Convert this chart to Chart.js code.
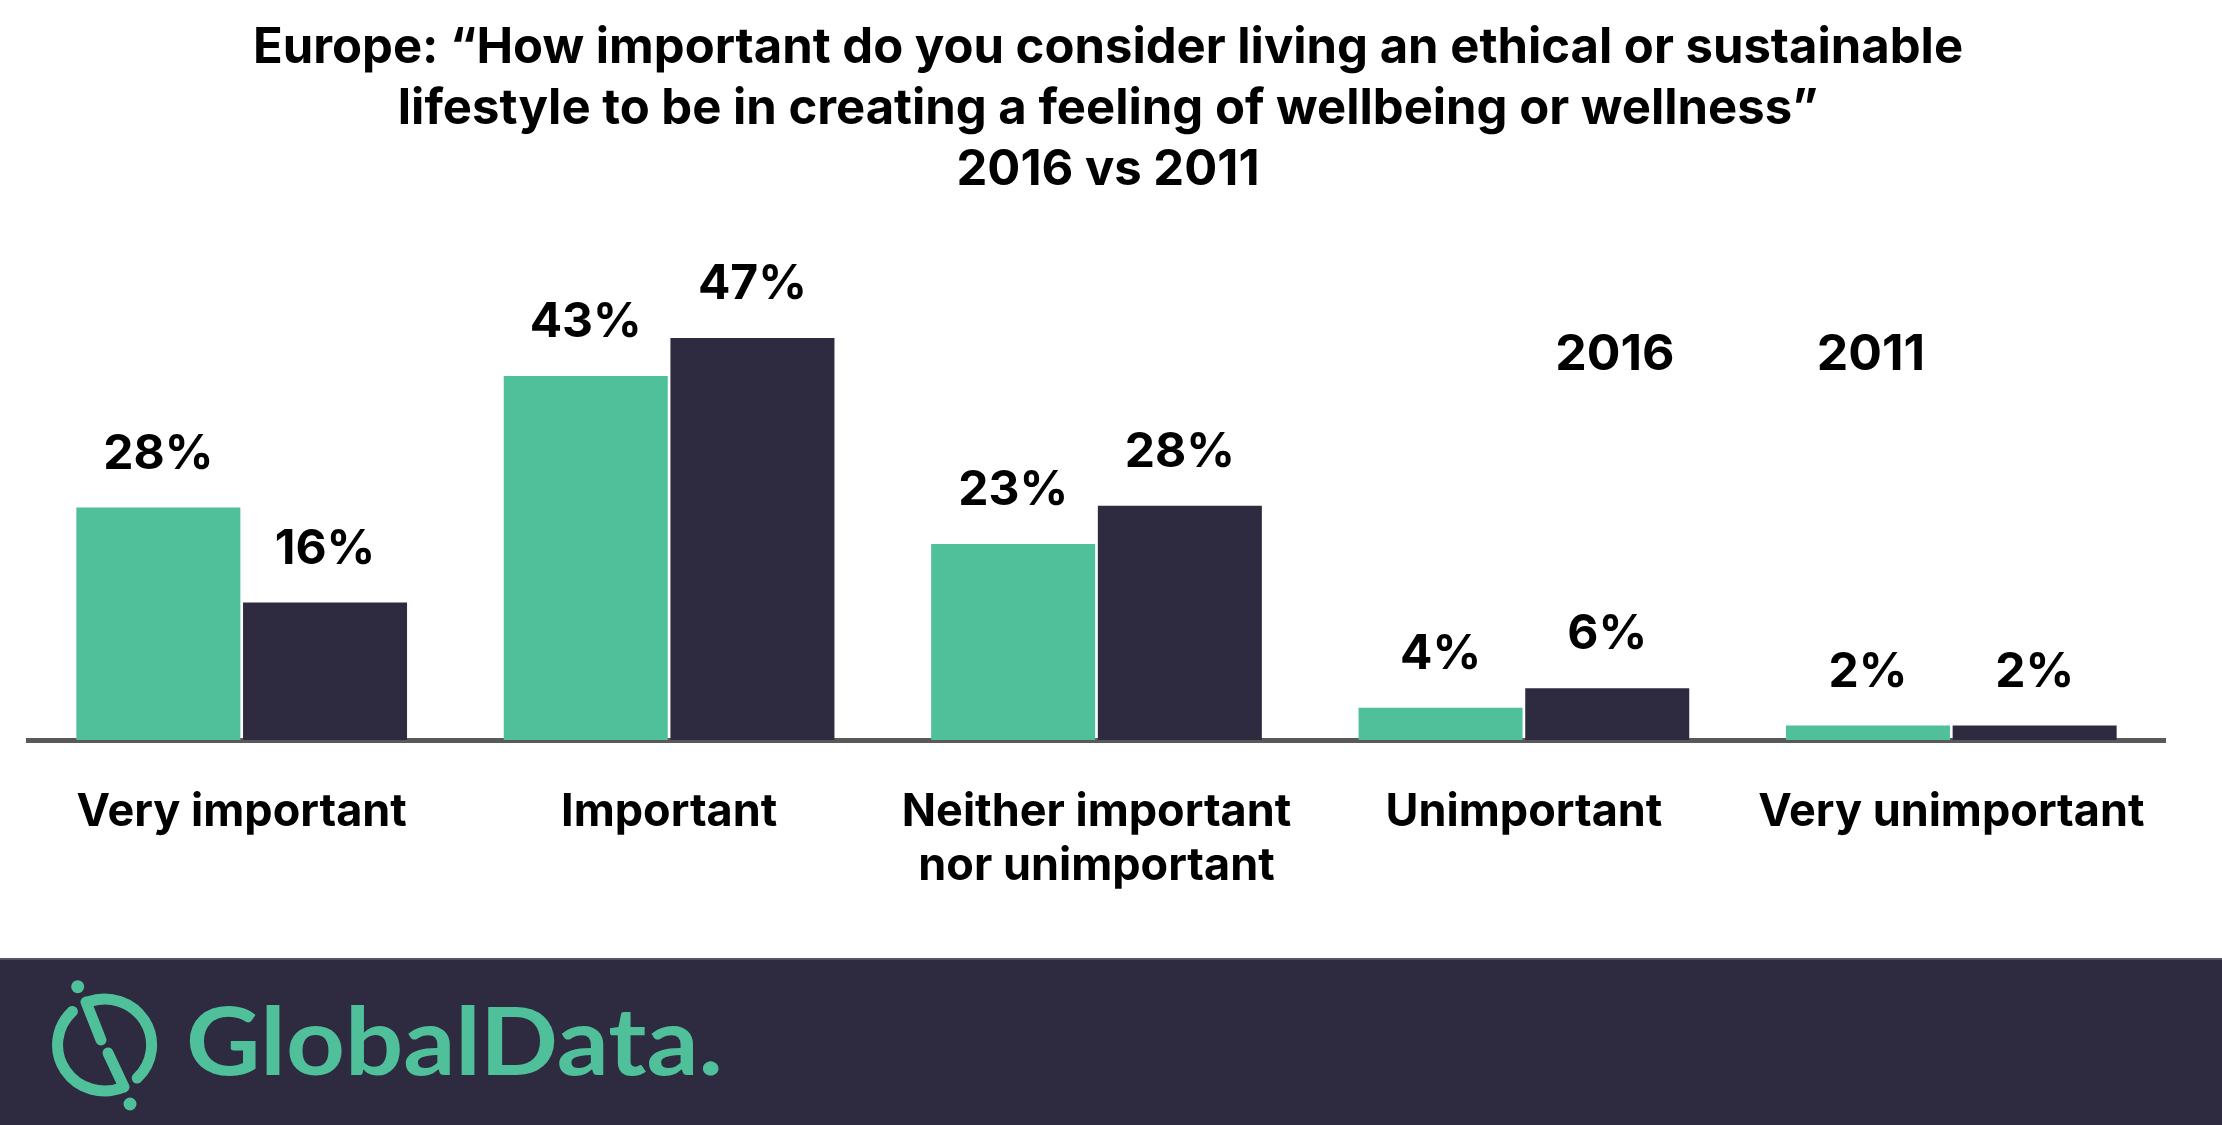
<!DOCTYPE html>
<html lang="en">
<head>
<meta charset="UTF-8">
<title>Europe: ethical or sustainable lifestyle and wellbeing, 2016 vs 2011</title>
<script src="https://cdn.jsdelivr.net/npm/chart.js@4.4.0/dist/chart.umd.min.js"></script>
<style>
  html, body { margin: 0; padding: 0; background: #ffffff; }
  body { width: 2222px; height: 1125px; overflow: hidden; position: relative; font-family: Inter, sans-serif; }
  #wrap { position: absolute; left: 0; top: 0; width: 2222px; height: 958px; }
  #footer { position: absolute; left: 0; top: 958px; width: 2222px; height: 167px; background: #2e2a3f; border-top: 2px solid #57535f; box-sizing: border-box; }
  #logo { position: absolute; left: 0; top: 958px; }
</style>
</head>
<body>
<div id="wrap"><canvas id="chart"></canvas></div>
<div id="footer"></div>
<svg id="logo" width="800" height="167" viewBox="0 0 800 167">
  <g fill="none" stroke="#50c09b" stroke-width="11" stroke-linecap="round">
    <path d="M88.4 43.8 A47 46 0 0 1 137.2 120.1"/>
    <path d="M123.6 129 A47 46 0 0 1 72.4 53.4"/>
    <path d="M86 44 L101 82"/>
    <path d="M108 95 L124 129"/>
  </g>
  <circle cx="77.7" cy="28.7" r="6.5" fill="#50c09b"/>
  <circle cx="130" cy="146" r="6.5" fill="#50c09b"/>
  <text x="186" y="117" font-family="Lato" font-weight="700" font-size="94" fill="#50c09b" textLength="537" lengthAdjust="spacingAndGlyphs">GlobalData.</text>
</svg>
<script>
// chart data
const categories = [['Very important'], ['Important'], ['Neither important', 'nor unimportant'], ['Unimportant'], ['Very unimportant']];
const years = ['2016', '2011'];
const values2016 = [27.4, 42.9, 23.1, 3.8, 1.7];
const values2011 = [16.2, 47.4, 27.6, 6.1, 1.7];
const printed2016 = ['28%', '43%', '23%', '4%', '2%'];
const printed2011 = ['16%', '47%', '28%', '6%', '2%'];
const titleLines = [
    'Europe: \u201cHow important do you consider living an ethical or sustainable',
    'lifestyle to be in creating a feeling of wellbeing or wellness\u201d',
    '2016 vs 2011'
];

const GREEN = '#50c09b';
const DARK = '#2e2a40';

const titlePlugin = {
    id: 'titleText',
    afterDraw(chart) {
        const ctx = chart.ctx;
        ctx.save();
        ctx.font = '700 49px Inter';
        ctx.fillStyle = '#000';
        ctx.textAlign = 'center';
        ctx.textBaseline = 'alphabetic';
        titleLines.forEach((line, i) => ctx.fillText(line, 1108, 63 + i * 61));
        ctx.restore();
    }
};

const valueLabels = {
    id: 'valueLabels',
    afterDatasetsDraw(chart) {
        const ctx = chart.ctx;
        const printed = [printed2016, printed2011];
        ctx.save();
        ctx.font = '700 48px Inter';
        ctx.fillStyle = '#000';
        ctx.textAlign = 'center';
        ctx.textBaseline = 'alphabetic';
        chart.data.datasets.forEach((ds, di) => {
            chart.getDatasetMeta(di).data.forEach((bar, i) => {
                ctx.fillText(printed[di][i], bar.x, bar.y - 39);
            });
        });
        ctx.restore();
    }
};

// the legend in the reference is just the two years, no swatches
const yearLegend = {
    id: 'yearLegend',
    afterDraw(chart) {
        const ctx = chart.ctx;
        const ca = chart.chartArea;
        const fracs = [0.7426, 0.8624];
        ctx.save();
        ctx.font = '700 50px Inter';
        ctx.fillStyle = '#000';
        ctx.textAlign = 'center';
        ctx.textBaseline = 'alphabetic';
        chart.data.datasets.forEach((ds, di) => {
            ctx.fillText(ds.label, ca.left + fracs[di] * ca.width, ca.top + 139);
        });
        ctx.restore();
    }
};

new Chart(document.getElementById('chart'), {
    type: 'bar',
    data: {
        labels: categories,
        datasets: [
            { label: years[0], data: values2016, backgroundColor: GREEN },
            { label: years[1], data: values2011, backgroundColor: DARK }
        ]
    },
    options: {
        responsive: true,
        maintainAspectRatio: false,
        animation: false,
        devicePixelRatio: 1,
        layout: { padding: { top: 231, left: 28, right: 57, bottom: 0 } },
        datasets: { bar: { categoryPercentage: 0.78, barPercentage: 0.984 } },
        plugins: {
            legend: { display: false },
            title: { display: false },
            tooltip: { enabled: false }
        },
        scales: {
            x: {
                z: 1,
                grid: { display: false, drawTicks: false },
                border: { display: true, color: '#595959', width: 5 },
                ticks: {
                    color: '#000',
                    font: { family: 'Inter', size: 45, weight: '700', lineHeight: 54 / 45 },
                    padding: 45,
                    maxRotation: 0,
                    autoSkip: false
                },
                afterFit(scale) { scale.height = 218; }
            },
            y: { display: false, min: 0, max: 60 }
        }
    },
    plugins: [titlePlugin, valueLabels, yearLegend]
});
</script>
</body>
</html>
